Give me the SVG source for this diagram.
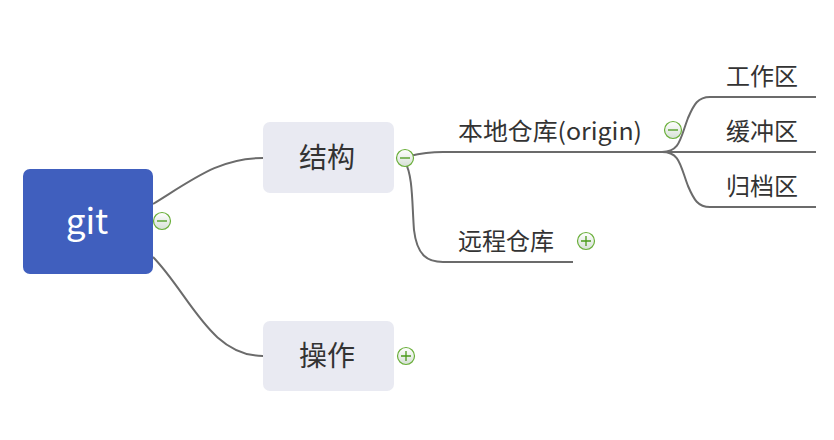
<svg xmlns="http://www.w3.org/2000/svg" width="834" height="440" viewBox="0 0 834 440">
<defs>
<linearGradient id="cg" x1="0" y1="0" x2="0" y2="1">
<stop offset="0" stop-color="#ffffff"/>
<stop offset="1" stop-color="#d6e0d6"/>
</linearGradient>
<style>
.ln{fill:none;stroke:#6b6b6b;stroke-width:2}
.t{font-family:"Noto Sans CJK SC","Microsoft YaHei",sans-serif;fill:#333333}
.box{fill:#e9eaf2}
.tg circle{fill:url(#cg);stroke:#6aaf3a;stroke-width:1.2}
.tg path{stroke:#4a9a1a;stroke-width:1.3;fill:none}
</style>
</defs>
<rect width="834" height="440" fill="#ffffff"/>
<g id="connectors">
<path class="ln" d="M153,204 C195,178 220,158 263,158"/>
<path class="ln" d="M153,257 C190,295 210,356 263,356"/>
<path class="ln" d="M396,158 C408,158 415,152 443,152 L662,152"/>
<path class="ln" d="M405,162 C413,175 412,205 414,230 C417,256 428,262 443,262 L573,262"/>
<path class="ln" d="M662,152 C680,152 680,139 688,118 C694,104 698,97 710,97 L816,97"/>
<path class="ln" d="M662,152 L816,152"/>
<path class="ln" d="M662,152 C680,152 680,165 688,186 C694,200 698,207 710,207 L816,207"/>
</g>
<g id="node-git">
<rect x="23" y="169" width="130" height="105" rx="7" fill="#405fbe"/>
<text class="t" x="87" y="234" font-size="35" text-anchor="middle" style="fill:#ffffff">git</text>
<g class="tg"><circle cx="162" cy="221" r="8.5"/><path d="M157,221 H167"/></g>
</g>
<g id="node-jiegou">
<rect class="box" x="263" y="122" width="131" height="71" rx="7"/>
<text class="t" x="327" y="168" font-size="28" text-anchor="middle">结构</text>
<g class="tg"><circle cx="405" cy="158" r="8.5"/><path d="M400,158 H410"/></g>
</g>
<g id="node-caozuo">
<rect class="box" x="263" y="321" width="131" height="70" rx="7"/>
<text class="t" x="327" y="366" font-size="28" text-anchor="middle">操作</text>
<g class="tg"><circle cx="406" cy="356" r="8.5"/><path d="M401,356 H411 M406,351 V361"/></g>
</g>
<g id="node-local">
<text class="t" x="458" y="140" font-size="24" textLength="184" lengthAdjust="spacingAndGlyphs">本地仓库(origin)</text>
<g class="tg"><circle cx="673" cy="130" r="8.5"/><path d="M668,130 H678"/></g>
</g>
<g id="node-remote">
<text class="t" x="458" y="250" font-size="24">远程仓库</text>
<g class="tg"><circle cx="586" cy="241" r="8.5"/><path d="M581,241 H591 M586,236 V246"/></g>
</g>
<g id="node-work">
<text class="t" x="726" y="85" font-size="24">工作区</text>
</g>
<g id="node-stage">
<text class="t" x="726" y="140" font-size="24">缓冲区</text>
</g>
<g id="node-archive">
<text class="t" x="726" y="195" font-size="24">归档区</text>
</g>
</svg>
